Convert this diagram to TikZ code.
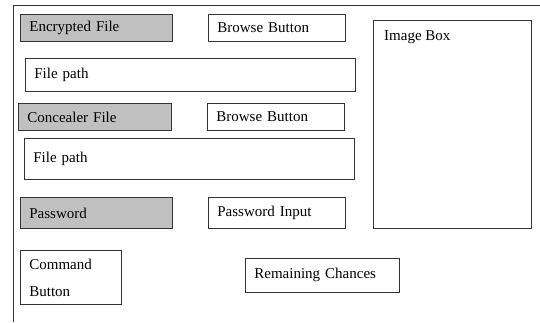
\documentclass[tikz,border=0pt]{standalone}
\usepackage{fontspec}
\setmainfont{Liberation Serif}
\usepackage{tikz}
\usetikzlibrary{positioning}
\definecolor{edge}{HTML}{333333}
\definecolor{shade}{HTML}{C0C0C0}
\tikzset{field/.style={draw=edge,line width=0.8pt,anchor=north west,align=left,inner xsep=9pt,inner ysep=0pt,font=\fontsize{15}{18}\selectfont},tag/.style={field,fill=shade},frame/.style={draw=edge,line width=1pt}}

\begin{document}
\begin{tikzpicture}[x=1pt,y=-1pt]
\useasboundingbox (0,0) rectangle (540,322);
\draw[frame] (540,5) -- (13,5) -- (13,322);
% first file row
\node[tag,text width=134pt,minimum height=27pt] (encfile) at (20,14) {Encrypted File};
\node[field,text width=119pt,minimum height=27pt] (browsea) at (208,14) {Browse Button};
\node[field,text width=312pt,minimum height=33pt] (patha) at (25,58) {File path};
% second file row
\node[tag,text width=135pt,minimum height=27pt] (concfile) at (18,103) {Concealer File};
\node[field,text width=119pt,minimum height=27pt] (browseb) at (207,103) {Browse Button};
\node[field,text width=312pt,minimum height=41pt] (pathb) at (24,138) {File path};
% password row
\node[tag,text width=134pt,minimum height=31pt] (pass) at (20,197) {Password};
\node[field,text width=119pt,minimum height=31pt] (passin) at (208,197) {Password Input};
% preview area
\node[field,minimum width=158pt,minimum height=208pt,label={[anchor=north west,inner sep=0pt,xshift=11pt,yshift=-10pt,font=\fontsize{15}{18}\selectfont]north west:Image Box}] (imgbox) at (373,20) {};
% bottom row
\node[field,text width=83pt,minimum height=54pt,font=\fontsize{15}{27}\selectfont] (cmdbtn) at (20,250) {Command\\Button};
\node[field,text width=136pt,minimum height=34pt] (chances) at (245,258) {Remaining Chances};
\end{tikzpicture}
\end{document}
